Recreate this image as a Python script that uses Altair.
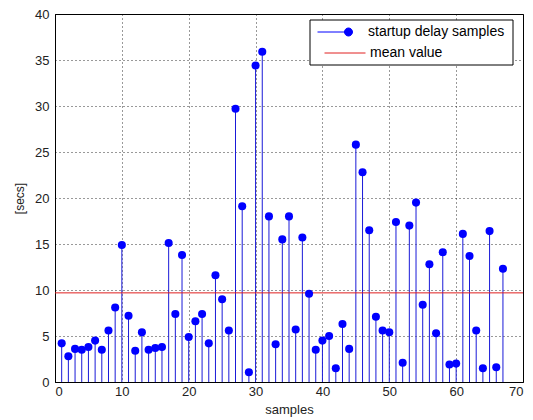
import altair as alt
import pandas as pd

samples = list(range(1, 68))
delays = [4.2, 2.8, 3.6, 3.5, 3.8, 4.5, 3.5, 5.6, 8.1, 14.9,
          7.2, 3.4, 5.4, 3.5, 3.7, 3.8, 15.1, 7.4, 13.8, 4.9,
          6.6, 7.4, 4.2, 11.6, 9.0, 5.6, 29.7, 19.1, 1.05, 34.4,
          35.9, 18.0, 4.1, 15.5, 18.0, 5.7, 15.7, 9.6, 3.5, 4.5,
          5.0, 1.5, 6.3, 3.6, 25.8, 22.8, 16.5, 7.1, 5.6, 5.4,
          17.4, 2.1, 17.0, 19.5, 8.4, 12.8, 5.3, 14.1, 1.9, 2.0,
          16.1, 13.7, 5.6, 1.5, 16.4, 1.6, 12.3]
x_ticks = [0, 10, 20, 30, 40, 50, 60, 70]
y_ticks = [0, 5, 10, 15, 20, 25, 30, 35, 40]
series_names = ["startup delay samples", "mean value"]

df = pd.DataFrame({"sample": samples, "delay": delays})
FONT = "Liberation Sans"

xs = alt.Scale(domain=[0, 70], nice=False)
ys = alt.Scale(domain=[0, 40], nice=False)
xax = alt.Axis(values=x_ticks, title="samples", grid=True)
yax = alt.Axis(values=y_ticks, title="[secs]", grid=True)

base = alt.Chart(df)

stems = base.mark_rule(color="#1a1ad8", strokeWidth=1).encode(
    x=alt.X("sample:Q", scale=xs, axis=xax),
    y=alt.Y("delay:Q", scale=ys, axis=yax),
    y2=alt.datum(0),
)

marker_path = "M-1,0L0.54,0M0.54,0A0.23,0.23,0,1,0,1,0A0.23,0.23,0,1,0,0.54,0Z"

points = base.mark_circle(size=65, opacity=1).transform_calculate(
    series="'" + series_names[0] + "'"
).encode(
    x=alt.X("sample:Q", scale=xs),
    y=alt.Y("delay:Q", scale=ys),
    color=alt.Color(
        "series:N",
        scale=alt.Scale(domain=[series_names[0]], range=["#0000ff"]),
        legend=alt.Legend(
            title=None, orient="none", legendX=262, legendY=0, padding=0,
            symbolType=marker_path, symbolSize=1225,
            symbolStrokeColor="#0000ff", symbolStrokeWidth=1,
            symbolFillColor="#0000ff",
            labelFont=FONT, labelFontSize=14, labelColor="#000",
            labelOffset=15,
        ),
    ),
)

frame = alt.Chart(pd.DataFrame({"k": [0]})).mark_rect(
    fill="white", stroke="black", strokeWidth=1
).encode(
    x=alt.value(255), x2=alt.value(458), y=alt.value(6), y2=alt.value(51)
)

mean_line = base.mark_rule(strokeWidth=1).transform_aggregate(
    m="mean(delay)"
).transform_calculate(
    series="'" + series_names[1] + "'"
).encode(
    y=alt.Y("m:Q", scale=ys),
    color=alt.Color(
        "series:N",
        scale=alt.Scale(domain=[series_names[1]], range=["#e02020"]),
        legend=alt.Legend(
            title=None, orient="none", legendX=269, legendY=18, padding=0,
            symbolType="stroke", symbolSize=1681,
            symbolStrokeColor="#e06060", symbolStrokeWidth=1,
            labelFont=FONT, labelFontSize=14, labelColor="#000",
            labelOffset=4,
        ),
    ),
)

chart = alt.layer(stems, mean_line, frame, points).resolve_scale(
    color="independent"
).properties(
    width=468, height=368,
    autosize=alt.AutoSizeParams(type="none"),
    padding={"left": 47, "top": 6, "right": 2, "bottom": 40},
    background="white",
).configure_view(
    stroke="black", strokeWidth=1
).configure_axis(
    labelFont=FONT, labelFontSize=13, labelColor="#222",
    titleFont=FONT, titleFontSize=13, titleColor="#222", titleFontWeight="normal",
    domainColor="black", ticks=False,
    gridColor="black", gridDash=[1, 3], gridOpacity=0.8, gridWidth=1,
).configure_axisX(
    labelPadding=3, titlePadding=5,
).configure_axisY(
    labelPadding=6, titlePadding=8, titleFontSize=12,
)

chart.save("out.html", embed_options={"renderer": "svg", "actions": False})
